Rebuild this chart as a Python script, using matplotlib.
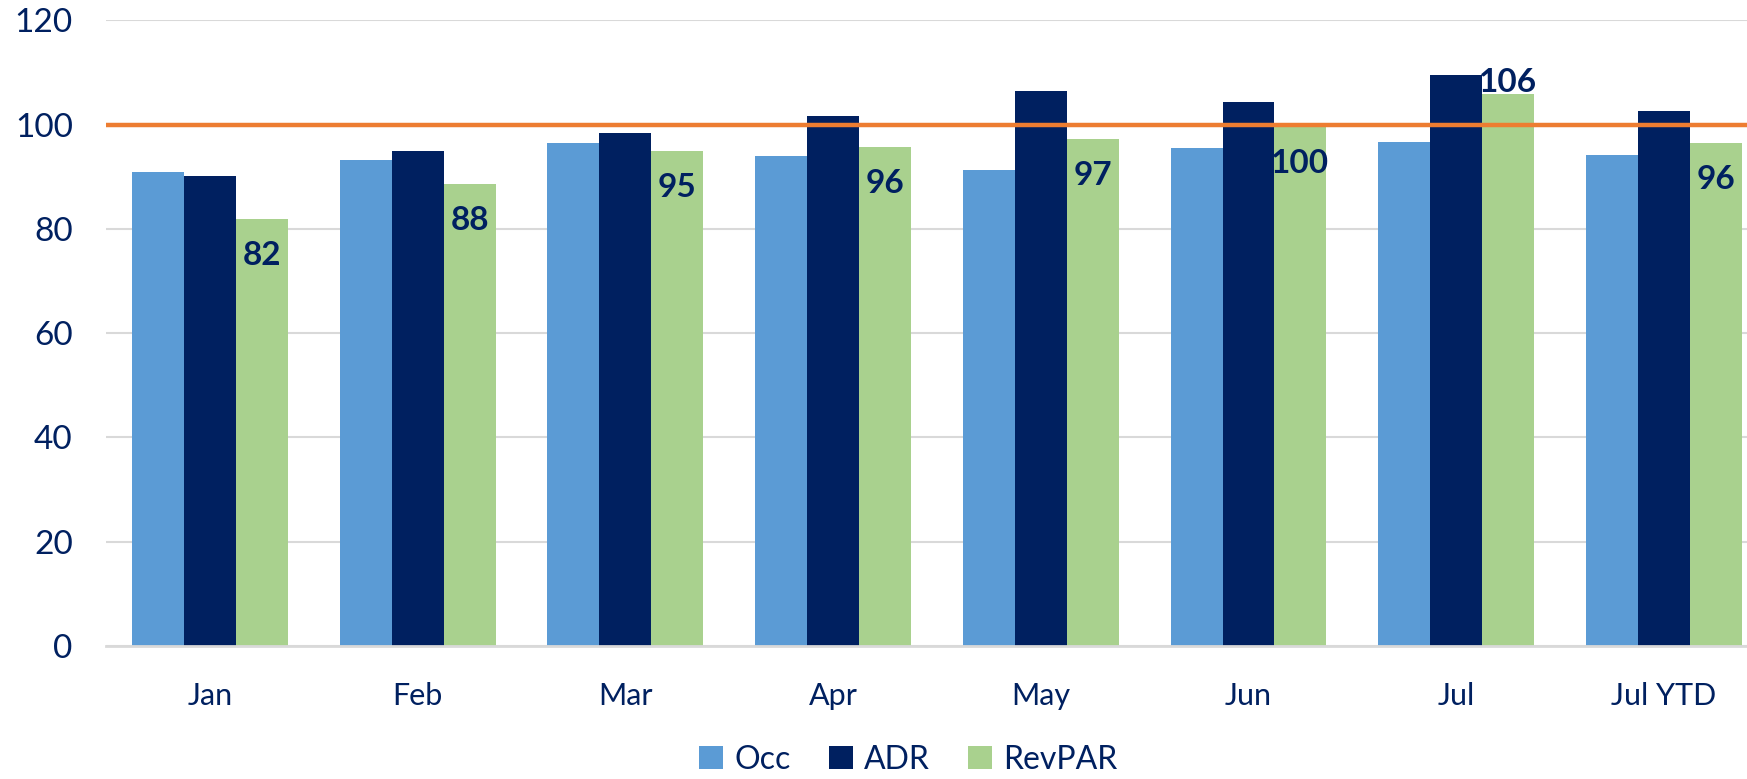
import numpy as np
import matplotlib.pyplot as plt

categorias = ["Jan", "Feb", "Mar", "Apr", "May", "Jun", "Jul", "Jul YTD"]
occ = [90.8, 93.2, 96.5, 93.9, 91.3, 95.4, 96.7, 94.1]
adr = [90.2, 95.0, 98.3, 101.7, 106.4, 104.3, 109.5, 102.5]
revpar = [81.8, 88.5, 94.9, 95.7, 97.3, 99.5, 105.8, 96.4]
rotulos_revpar = ["82", "88", "95", "96", "97", "100", "106", "96"]
linha_base = 100

azul = "#5B9BD5"
marinho = "#002060"
verde = "#A9D18E"
laranja = "#ED7D31"
fonte = "Lato"

fig = plt.figure(figsize=(17.47, 7.79), dpi=100, facecolor="white")
ax = fig.add_axes([0.0607, 0.171, 0.9393, 0.803])

x = np.arange(len(categorias))
w = 0.25
ax.bar(x - w, occ, w, color=azul, label="Occ", zorder=2)
ax.bar(x, adr, w, color=marinho, label="ADR", zorder=2)
ax.bar(x + w, revpar, w, color=verde, label="RevPAR", zorder=2)

ax.axhline(linha_base, color=laranja, linewidth=3.2, zorder=3)

for xi, v, txt in zip(x, revpar, rotulos_revpar):
    if v > 105:
        y, va = v - 0.5, "bottom"
    else:
        y, va = v - 7, "center"
    ax.text(xi + w, y, txt, ha="center", va=va, fontsize=24, fontweight="bold",
            color=marinho, family=fonte, zorder=4)

ax.set_xlim(-0.5, 7.4)
ax.set_ylim(0, 120)
ax.set_yticks(range(0, 121, 20))
ax.set_xticks(x)
ax.set_xticklabels(categorias)
ax.yaxis.grid(True, color="#D9D9D9", linewidth=1.5, zorder=0)
ax.set_axisbelow(True)

for s in ["top", "right", "left"]:
    ax.spines[s].set_visible(False)
ax.spines["bottom"].set_color("#D9D9D9")
ax.spines["bottom"].set_linewidth(2)

ax.tick_params(axis="y", length=0, pad=24, labelsize=24, labelcolor=marinho)
ax.tick_params(axis="x", length=0, pad=26, labelsize=22, labelcolor=marinho)
for t in ax.get_xticklabels() + ax.get_yticklabels():
    t.set_family(fonte)

leg = fig.legend(loc="center", bbox_to_anchor=(0.52, 0.025), ncol=3, frameon=False,
                 handlelength=0.75, handleheight=0.75, handletextpad=0.35,
                 columnspacing=1.2, prop={"family": fonte, "size": 23})
for t in leg.get_texts():
    t.set_color(marinho)

fig.savefig("out.png", dpi=100, facecolor="white")
